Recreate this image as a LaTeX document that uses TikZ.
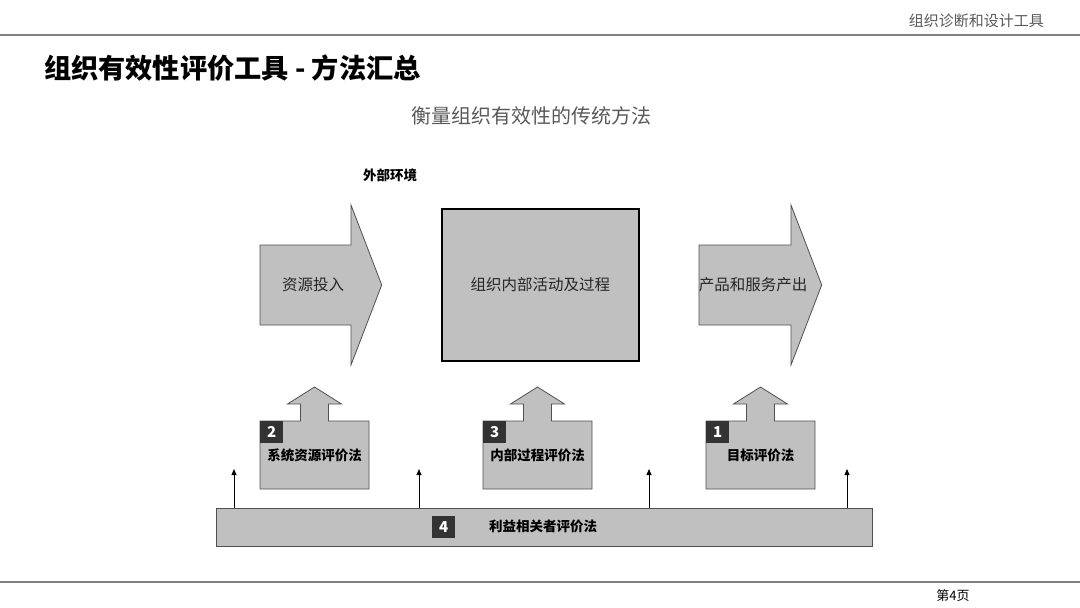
\documentclass[tikz,border=0pt]{standalone}
\usepackage{fontspec}
\setmainfont{Noto Sans CJK SC}
\usetikzlibrary{arrows.meta}
\definecolor{boxgray}{HTML}{C0C0C0}
\definecolor{edgegray}{HTML}{505050}
\definecolor{hdrgray}{HTML}{595959}
\definecolor{rulegray}{HTML}{808080}
\definecolor{badgedark}{HTML}{333333}
\begin{document}
\begin{tikzpicture}[x=1pt,y=-1pt,
  shp/.style={fill=boxgray, draw=edgegray, line width=0.8pt},
  lbl/.style={font=\fontsize{15.5}{18}\selectfont, text=black!85, inner sep=0},
  blbl/.style={font=\bfseries\fontsize{13.5}{16}\selectfont, text=black, inner sep=0},
  badge/.style={fill=badgedark, text=white, font=\bfseries\fontsize{15}{17}\selectfont, minimum width=23pt, minimum height=22pt, inner sep=0, anchor=north west},
  small/.style={draw=black, line width=0.8pt, -{Triangle[length=6pt,width=5pt]}}]
\useasboundingbox (0,0) rectangle (1080,608);
% header
\draw[rulegray, line width=1.6pt] (0,35) -- (1080,35);
\node[anchor=east, inner sep=0, text=hdrgray, font=\fontsize{15}{18}\selectfont] (hdr) at (1044,21) {组织诊断和设计工具};
\node[anchor=west, inner sep=0, font=\bfseries\fontsize{27.2}{31}\selectfont] (title) at (44,68) {组织有效性评价工具 - 方法汇总};
\node[inner sep=0, text=hdrgray, font=\fontsize{20}{24}\selectfont] (sub) at (531,116) {衡量组织有效性的传统方法};
\node[blbl] (env) at (390,175) {外部环境};
% big arrows
\draw[shp] (260,245) -- (351,245) -- (351,205) -- (381.7,285) -- (351,365) -- (351,325) -- (260,325) -- cycle;
\node[lbl] (in) at (313,285) {资源投入};
\node[draw=black, fill=boxgray, line width=2.6pt, minimum width=197pt, minimum height=152pt, inner sep=0] (proc) at (540.4,285) {};
\node[lbl] (proct) at (proc.center) {组织内部活动及过程};
\draw[shp] (699,245) -- (791,245) -- (791,205) -- (821.7,285) -- (791,365) -- (791,325) -- (699,325) -- cycle;
\node[lbl] (out) at (753,285) {产品和服务产出};
% up boxes
\foreach \L/\n/\t in {260/2/系统资源评价法, 483/3/内部过程评价法, 706/1/目标评价法}{
  \pgfmathsetmacro{\c}{\L+54.5}
  \draw[shp] (\L,421) -- (\c-14,421) -- (\c-14,404) -- (\c-27,404) -- (\c,387) -- (\c+27,404) -- (\c+14,404) -- (\c+14,421) -- (\L+109,421) -- (\L+109,489) -- (\L,489) -- cycle;
  \node[badge] (b\n) at (\L,421) {\n};
  \node[blbl] (t\n) at (\c,455) {\t};
}
% bottom bar
\node[shp, minimum width=656pt, minimum height=38pt, inner sep=0] (bar) at (544,527) {};
\node[badge] (b4) at (432,515.5) {4};
\node[blbl] (t4) at (543,526.5) {利益相关者评价法};
\foreach \x [count=\i] in {234,419,649,847}{
  \coordinate (s\i) at (\x,469);
  \draw[small] (bar.north -| s\i) -- (s\i);
}
% footer
\draw[rulegray, line width=1.2pt] (0,582) -- (1080,582);
\node[inner sep=0, font=\fontsize{13}{15}\selectfont] (pg) at (953,596) {第4页};
\end{tikzpicture}
\end{document}
